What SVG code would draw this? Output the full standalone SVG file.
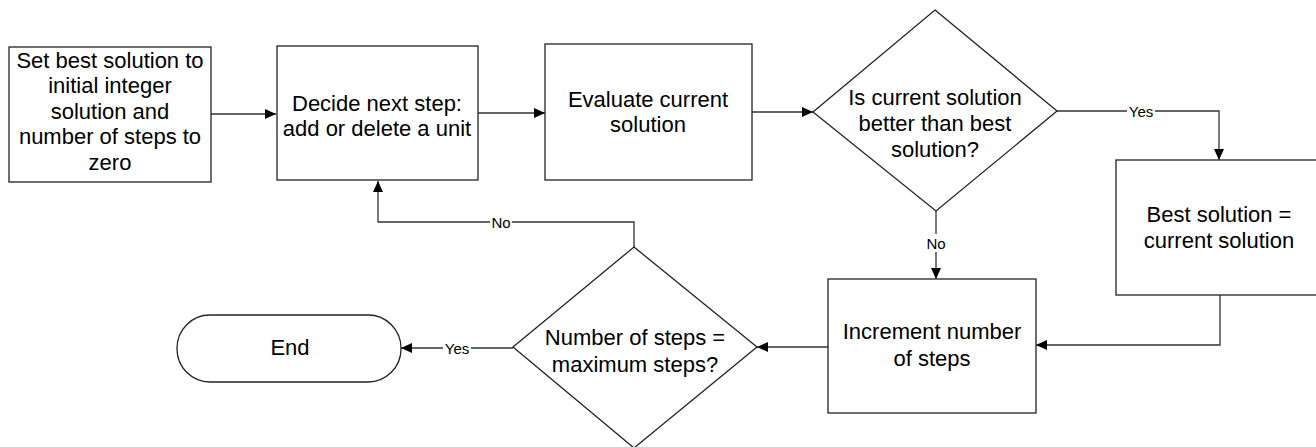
<svg xmlns="http://www.w3.org/2000/svg" width="1316" height="447" viewBox="0 0 1316 447">
<style>
.shape{fill:#fff;stroke:#222;stroke-width:1.3}
.conn{fill:none;stroke:#333;stroke-width:1.3}
.t{font-family:"Liberation Sans",Arial,sans-serif;font-size:22px;fill:#000;text-anchor:middle}
.lbl{font-family:"Liberation Sans",Arial,sans-serif;font-size:15px;fill:#000;text-anchor:middle;dominant-baseline:central}
</style>
<defs>
<marker id="ah" markerWidth="12" markerHeight="10" refX="11" refY="5" orient="auto" markerUnits="userSpaceOnUse">
<path d="M0,0 L11,5 L0,10 Z" fill="#000"/>
</marker>
</defs>
<rect width="1316" height="447" fill="#fff"/>
<g id="connectors">
<path class="conn" d="M210,114 H276" marker-end="url(#ah)"/>
<path class="conn" d="M478,113 H545" marker-end="url(#ah)"/>
<path class="conn" d="M752,112 H813" marker-end="url(#ah)"/>
<path class="conn" d="M1057,111 H1127"/>
<path class="conn" d="M1155,111 H1219 V160" marker-end="url(#ah)"/>
<text class="lbl" x="1141" y="111">Yes</text>
<path class="conn" d="M936,211 V234"/>
<path class="conn" d="M936,252 V279" marker-end="url(#ah)"/>
<text class="lbl" x="936" y="243">No</text>
<path class="conn" d="M1220,295 V345 H1036" marker-end="url(#ah)"/>
<path class="conn" d="M828,347 H757" marker-end="url(#ah)"/>
<path class="conn" d="M634,247 V222 H512"/>
<path class="conn" d="M490,222 H378 V181" marker-end="url(#ah)"/>
<text class="lbl" x="501" y="222">No</text>
<path class="conn" d="M513,348 H471"/>
<path class="conn" d="M443,348 H401" marker-end="url(#ah)"/>
<text class="lbl" x="457" y="348">Yes</text>
</g>
<g id="start">
<rect class="shape" x="9" y="47" width="202" height="135"/>
<text class="t" x="110" y="68">Set best solution to</text>
<text class="t" x="110" y="93">initial integer</text>
<text class="t" x="110" y="119">solution and</text>
<text class="t" x="110" y="144">number of steps to</text>
<text class="t" x="110" y="170">zero</text>
</g>
<g id="decide">
<rect class="shape" x="277" y="46" width="201" height="134"/>
<text class="t" x="377" y="111">Decide next step:</text>
<text class="t" x="377" y="136">add or delete a unit</text>
</g>
<g id="evaluate">
<rect class="shape" x="545" y="44" width="207" height="136"/>
<text class="t" x="648" y="107">Evaluate current</text>
<text class="t" x="648" y="132">solution</text>
</g>
<g id="better">
<polygon class="shape" points="935,10 1057,111 936,211 813,112"/>
<text class="t" x="935" y="105">Is current solution</text>
<text class="t" x="935" y="131">better than best</text>
<text class="t" x="935" y="157">solution?</text>
</g>
<g id="best">
<rect class="shape" x="1116" y="160" width="204" height="135"/>
<text class="t" x="1219" y="222">Best solution =</text>
<text class="t" x="1219" y="248">current solution</text>
</g>
<g id="increment">
<rect class="shape" x="828" y="279" width="208" height="134"/>
<text class="t" x="932" y="339">Increment number</text>
<text class="t" x="932" y="366">of steps</text>
</g>
<g id="maxsteps">
<polygon class="shape" points="634,247 757,347 634,448 513,347"/>
<text class="t" x="635" y="345">Number of steps =</text>
<text class="t" x="635" y="372">maximum steps?</text>
</g>
<g id="end">
<rect class="shape" x="177" y="315" width="224" height="67" rx="33" ry="33"/>
<text class="t" x="290" y="355">End</text>
</g>
</svg>
